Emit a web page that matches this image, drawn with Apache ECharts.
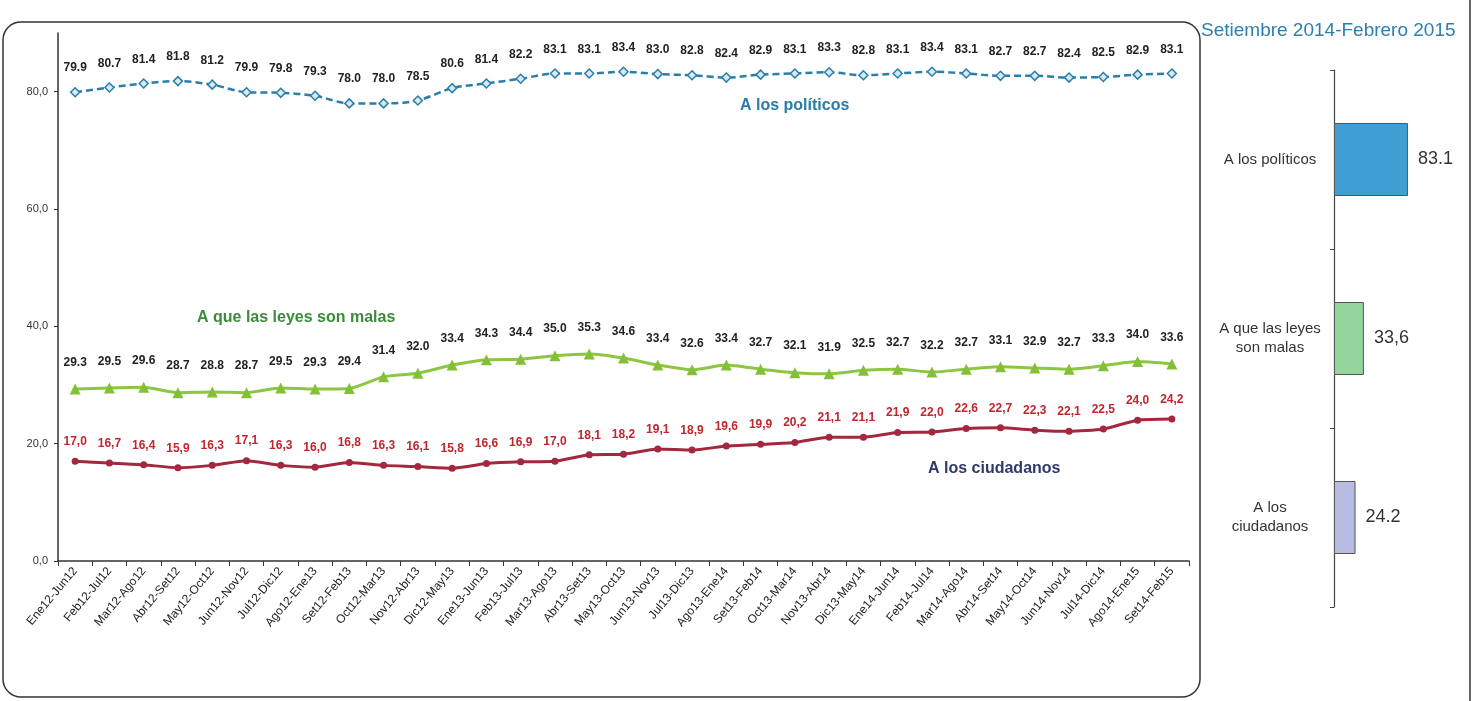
<!DOCTYPE html>
<html>
<head>
<meta charset="utf-8">
<script src="https://cdn.jsdelivr.net/npm/echarts@6/dist/echarts.min.js"></script>
<style>
html,body{margin:0;padding:0;background:#fff;}
#c{width:1482px;height:701px;}
</style>
</head>
<body>
<div id="c"></div>
<script>
const categories = ['Ene12-Jun12','Feb12-Jul12','Mar12-Ago12','Abr12-Set12','May12-Oct12','Jun12-Nov12','Jul12-Dic12','Ago12-Ene13','Set12-Feb13','Oct12-Mar13','Nov12-Abr13','Dic12-May13','Ene13-Jun13','Feb13-Jul13','Mar13-Ago13','Abr13-Set13','May13-Oct13','Jun13-Nov13','Jul13-Dic13','Ago13-Ene14','Set13-Feb14','Oct13-Mar14','Nov13-Abr14','Dic13-May14','Ene14-Jun14','Feb14-Jul14','Mar14-Ago14','Abr14-Set14','May14-Oct14','Jun14-Nov14','Jul14-Dic14','Ago14-Ene15','Set14-Feb15'];
const politicos = [79.9,80.7,81.4,81.8,81.2,79.9,79.8,79.3,78.0,78.0,78.5,80.6,81.4,82.2,83.1,83.1,83.4,83.0,82.8,82.4,82.9,83.1,83.3,82.8,83.1,83.4,83.1,82.7,82.7,82.4,82.5,82.9,83.1];
const leyesMalas = [29.3,29.5,29.6,28.7,28.8,28.7,29.5,29.3,29.4,31.4,32.0,33.4,34.3,34.4,35.0,35.3,34.6,33.4,32.6,33.4,32.7,32.1,31.9,32.5,32.7,32.2,32.7,33.1,32.9,32.7,33.3,34.0,33.6];
const ciudadanos = [17.0,16.7,16.4,15.9,16.3,17.1,16.3,16.0,16.8,16.3,16.1,15.8,16.6,16.9,17.0,18.1,18.2,19.1,18.9,19.6,19.9,20.2,21.1,21.1,21.9,22.0,22.6,22.7,22.3,22.1,22.5,24.0,24.2];
const yTicks = [0,20,40,60,80];
const barCategories = ['A los políticos','A que las leyes\nson malas','A los\nciudadanos'];
const barValues = [83.1,33.6,24.2];
const barLabels = ['83.1','33,6','24.2'];
const barTitle = 'Setiembre 2014-Febrero 2015';

const FONT = '"Liberation Sans", Arial, sans-serif';
const chart = echarts.init(document.getElementById('c'), null, {renderer:'canvas'});
const dot = v => v.toFixed(1);
const comma = v => v.toFixed(1).replace('.', ',');

const barColors = ['#3f9fd2','#93d59b','#b8bce0'];

chart.setOption({
  backgroundColor:'#fff',
  animation:false,
  textStyle:{fontFamily:FONT},
  title:{text:barTitle, left:1196, top:16, textStyle:{fontFamily:FONT, fontSize:19, fontWeight:'normal', color:'#2d7fb0'}},
  grid:[
    {left:58, right:293, top:33, bottom:140, containLabel:false},
    {left:1334, width:89, top:70, height:537, containLabel:false}
  ],
  xAxis:[
    {type:'category', gridIndex:0, data:categories, boundaryGap:true,
     axisLine:{lineStyle:{color:'#333', width:1.5}},
     axisTick:{show:true, length:5, lineStyle:{color:'#333'}},
     axisLabel:{interval:0, rotate:50, fontSize:12, color:'#222', margin:8, fontFamily:FONT}},
    {type:'value', gridIndex:1, min:0, max:100, show:false}
  ],
  yAxis:[
    {type:'value', gridIndex:0, min:0, max:90,
     axisLine:{show:true, lineStyle:{color:'#333', width:1.5}},
     axisTick:{show:true, length:4, customValues:yTicks, lineStyle:{color:'#333'}},
     axisLabel:{customValues:yTicks, formatter:v=>comma(v), fontSize:11, color:'#333', margin:10, fontFamily:FONT},
     splitLine:{show:false}},
    {type:'category', gridIndex:1, data:barCategories, inverse:true,
     axisLine:{show:true, lineStyle:{color:'#444', width:1.2}},
     axisTick:{show:true, length:4, lineStyle:{color:'#444'}},
     axisLabel:{fontSize:15, color:'#333', align:'center', margin:64, lineHeight:19, fontFamily:FONT}}
  ],
  series:[
    {name:'A los políticos', type:'line', xAxisIndex:0, yAxisIndex:0, data:politicos, smooth:0.3,
     lineStyle:{color:'#2a7fa8', width:2.5, type:[7,4]},
     symbol:'diamond', symbolSize:9,
     itemStyle:{color:'#d6e8f1', borderColor:'#2a7fa8', borderWidth:1.5},
     label:{show:true, position:'top', distance:13, formatter:p=>dot(p.value), fontSize:12, fontWeight:'bold', color:'#222', fontFamily:FONT}},
    {name:'A que las leyes son malas', type:'line', xAxisIndex:0, yAxisIndex:0, data:leyesMalas, smooth:0.2,
     lineStyle:{color:'#8dc641', width:3},
     symbol:'triangle', symbolSize:11,
     itemStyle:{color:'#84bf3a'},
     label:{show:true, position:'top', distance:15, formatter:p=>dot(p.value), fontSize:12, fontWeight:'bold', color:'#222', fontFamily:FONT}},
    {name:'A los ciudadanos', type:'line', xAxisIndex:0, yAxisIndex:0, data:ciudadanos, smooth:0.2,
     lineStyle:{color:'#a3273f', width:3},
     symbol:'circle', symbolSize:7,
     itemStyle:{color:'#a3273f'},
     label:{show:true, position:'top', distance:10, formatter:p=>comma(p.value), fontSize:12, fontWeight:'bold', color:'#c0262e', fontFamily:FONT}},
    {name:'bars', type:'bar', xAxisIndex:1, yAxisIndex:1, barWidth:73,
     data:barValues.map((v,i)=>({value:v, itemStyle:{color:barColors[i], borderColor:'#555', borderWidth:1}})),
     label:{show:true, position:'right', distance:10, formatter:p=>barLabels[p.dataIndex], fontSize:18, color:'#333', fontFamily:FONT}}
  ],
  graphic:[
    {type:'rect', shape:{x:3, y:22, width:1197, height:675, r:18}, style:{fill:'none', stroke:'#333', lineWidth:1.5}, z:-1, silent:true},
    {type:'line', shape:{x1:1470, y1:0, x2:1470, y2:701}, style:{stroke:'#333', lineWidth:1.5}, silent:true},
    {type:'text', left:740, top:98, style:{text:'A los políticos', fill:'#2a7ba5', font:'bold 16px '+FONT}},
    {type:'text', left:197, top:310, style:{text:'A que las leyes son malas', fill:'#3b8b3b', font:'bold 16px '+FONT}},
    {type:'text', left:928, top:461, style:{text:'A los ciudadanos', fill:'#2d3a6a', font:'bold 16px '+FONT}}
  ]
});
</script>
</body>
</html>
